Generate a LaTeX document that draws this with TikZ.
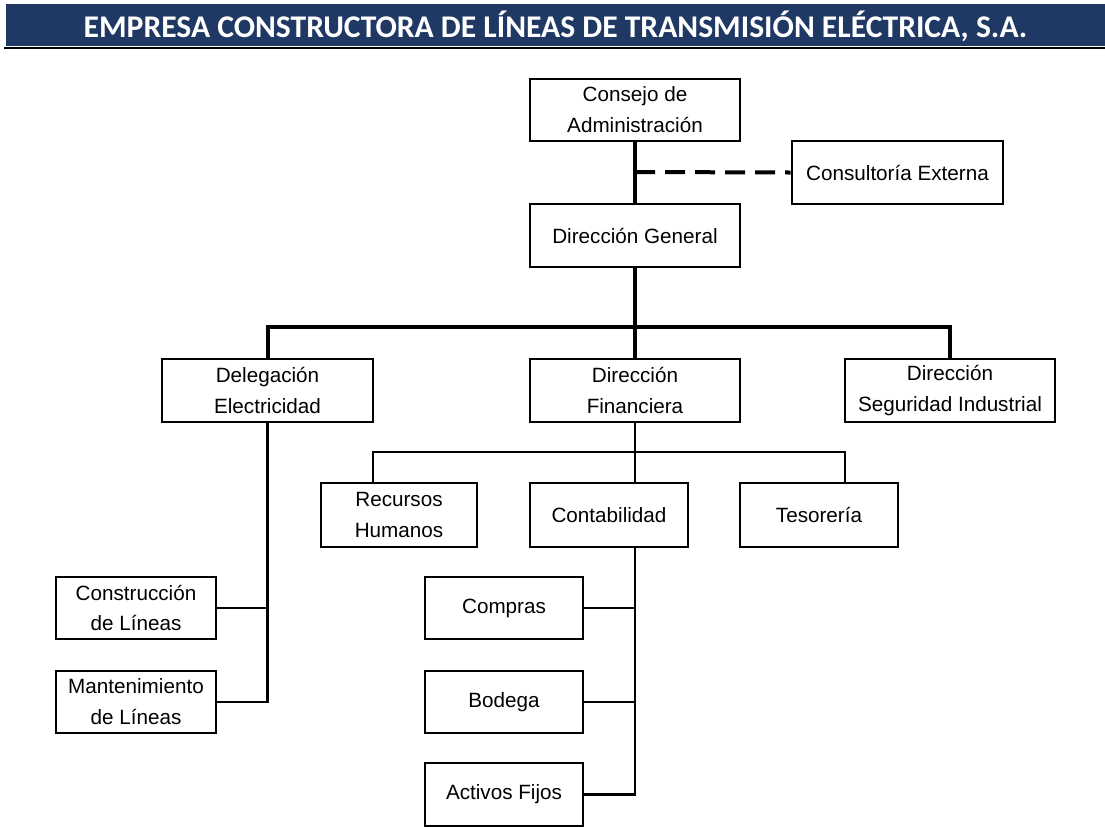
\documentclass[tikz,border=0pt]{standalone}
\usepackage{fontspec}
\setmainfont{Liberation Sans}
\newfontfamily\headfont{Carlito}
\definecolor{navy}{RGB}{31,56,100}
\begin{document}
\begin{tikzpicture}[x=0.75pt,y=-0.75pt,
  box/.style={draw=black,line width=2.1pt,fill=white,inner sep=0pt,align=center,
    font=\fontsize{15.5}{23.2}\selectfont},
  thickline/.style={line width=3pt},
  thinline/.style={line width=1.6pt},
  dashline/.style={line width=3pt,dash pattern=on 15pt off 7.5pt}]
\useasboundingbox (0,0) rectangle (1105,826);
% header
\fill[navy] (6,4) rectangle (1105,46);
\node[text=white,font=\headfont\bfseries\fontsize{23.7}{28}\selectfont] (title) at (555.5,26) {EMPRESA CONSTRUCTORA DE LÍNEAS DE TRANSMISIÓN ELÉCTRICA, S.A.};
\draw[line width=1.6pt] (4,48) -- (1105,48);
% boxes
\node[box,minimum width=210*0.75pt,minimum height=62*0.75pt] (cons) at (635,110) {Consejo de\\Administración};
\node[box,minimum width=211*0.75pt,minimum height=63*0.75pt] (ext) at (897.5,172.5) {Consultoría Externa};
\node[box,minimum width=210*0.75pt,minimum height=63*0.75pt] (dg) at (635,235.5) {Dirección General};
\node[box,minimum width=211*0.75pt,minimum height=63*0.75pt] (del) at (267.5,390.5) {Delegación\\Electricidad};
\node[box,minimum width=210*0.75pt,minimum height=63*0.75pt] (fin) at (635,390.5) {Dirección\\Financiera};
\node[box,minimum width=210*0.75pt,minimum height=63*0.75pt] (seg) at (950,390.5) {Dirección\\Seguridad Industrial};
\node[box,minimum width=156*0.75pt,minimum height=64*0.75pt] (rh) at (399,515) {Recursos\\Humanos};
\node[box,minimum width=158*0.75pt,minimum height=64*0.75pt] (cont) at (609,515) {Contabilidad};
\node[box,minimum width=158*0.75pt,minimum height=64*0.75pt] (tes) at (819,515) {Tesorería};
\node[box,minimum width=160*0.75pt,minimum height=62*0.75pt] (constr) at (136,608) {Construcción\\de Líneas};
\node[box,minimum width=160*0.75pt,minimum height=62*0.75pt] (mant) at (136,702) {Mantenimiento\\de Líneas};
\node[box,minimum width=158*0.75pt,minimum height=62*0.75pt] (comp) at (504,608) {Compras};
\node[box,minimum width=158*0.75pt,minimum height=62*0.75pt] (bod) at (504,702) {Bodega};
\node[box,minimum width=158*0.75pt,minimum height=63*0.75pt] (act) at (504,794.5) {Activos Fijos};
% coordinates
\coordinate (dj) at (635,172);
\coordinate (bus1) at (635,327);
\coordinate (b2l) at (373,452);
\coordinate (b2r) at (845,452);
% connectors
\draw[thickline] (cons.south) -- (dg.north);
\draw[dashline] (dj) -- (ext.west);
\draw[thickline] (dg.south) -- (fin.north);
\draw[thickline] (del.north) -- (del.north |- bus1) -- (seg.north |- bus1) -- (seg.north);
\draw[thinline] (fin.south) -- (fin.south |- cont.north);
\draw[thinline] (rh.north -| b2l) -- (b2l) -- (b2r) -- (tes.north -| b2r);
\draw[thinline] (del.south) -- (del.south |- mant.east) -- (mant.east);
\draw[thinline] (constr.east) -- (constr.east -| del.south);
\draw[thinline] (fin.south |- cont.south) -- (fin.south |- act.east) -- (act.east);
\draw[thinline] (comp.east) -- (comp.east -| fin.south);
\draw[thinline] (bod.east) -- (bod.east -| fin.south);
\end{tikzpicture}
\end{document}
